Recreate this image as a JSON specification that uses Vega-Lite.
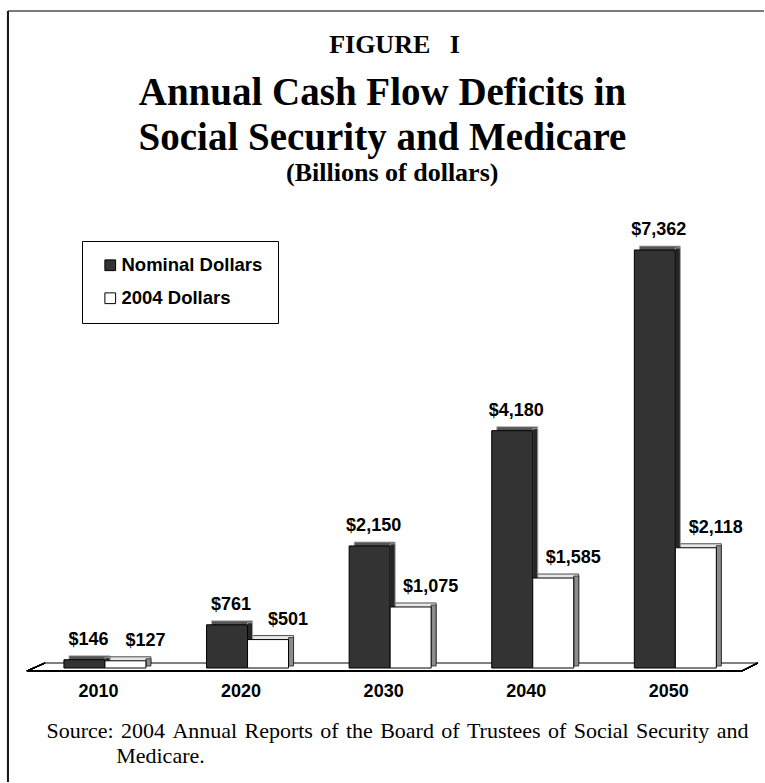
{
  "$schema": "https://vega.github.io/schema/vega-lite/v6.json",
  "width": 757,
  "height": 772,
  "autosize": "none",
  "padding": {"left": 8, "top": 11, "right": -1, "bottom": -1},
  "background": "white",
  "config": {
    "view": {"stroke": null},
    "font": "Liberation Sans",
    "axisRight": {"domain": false, "ticks": false, "labels": false, "grid": false, "title": null},
    "axisTop": {"domain": false, "ticks": false, "labels": false, "grid": false, "title": null},
    "axisX": {
      "offset": -112,
      "domain": false,
      "ticks": false,
      "grid": false,
      "bandPosition": 0.5,
      "labelAngle": 0,
      "labelPadding": 11,
      "labelOffset": -6.5,
      "labelBaseline": "top",
      "labelFont": "Liberation Sans",
      "labelFontSize": 18,
      "labelFontWeight": "bold",
      "labelColor": "black",
      "titleX": 38,
      "titleY": 66,
      "titleAlign": "left",
      "titleAnchor": null,
      "titleBaseline": "alphabetic",
      "titleFont": "Liberation Serif",
      "titleFontSize": 22,
      "titleFontWeight": "normal",
      "titleLineHeight": 25,
      "titleColor": "black"
    },
    "axisY": {
      "domain": false,
      "ticks": false,
      "labels": false,
      "grid": false,
      "titleAngle": 0,
      "titleX": 386,
      "titleY": 41,
      "titleAlign": "center",
      "titleAnchor": null,
      "titleBaseline": "alphabetic",
      "titleFont": "Liberation Serif",
      "titleFontSize": 26,
      "titleFontWeight": "bold",
      "titleColor": "black"
    }
  },
  "title": {
    "text": ["Annual Cash Flow Deficits in", "Social Security and Medicare"],
    "subtitle": "\u200b\u00a0\u00a0\u00a0(Billions of dollars)",
    "font": "Liberation Serif",
    "fontSize": 39,
    "fontWeight": "bold",
    "color": "black",
    "lineHeight": 45,
    "subtitleFont": "Liberation Serif",
    "subtitleFontSize": 26,
    "subtitleFontWeight": "bold",
    "subtitleColor": "black",
    "subtitlePadding": 2,
    "anchor": "middle",
    "frame": "group",
    "orient": "top",
    "offset": -176,
    "dx": -4
  },
  "data": {
    "values": [
      {"year": "2010", "series": "Nominal Dollars", "value": 146},
      {"year": "2010", "series": "2004 Dollars", "value": 127},
      {"year": "2020", "series": "Nominal Dollars", "value": 761},
      {"year": "2020", "series": "2004 Dollars", "value": 501},
      {"year": "2030", "series": "Nominal Dollars", "value": 2150},
      {"year": "2030", "series": "2004 Dollars", "value": 1075},
      {"year": "2040", "series": "Nominal Dollars", "value": 4180},
      {"year": "2040", "series": "2004 Dollars", "value": 1585},
      {"year": "2050", "series": "Nominal Dollars", "value": 7362},
      {"year": "2050", "series": "2004 Dollars", "value": 2118}
    ]
  },
  "resolve": {"scale": {"fill": "independent", "xOffset": "independent"}},
  "layer": [
    {
      "mark": {"type": "rule", "color": "black", "strokeWidth": 1.2, "xOffset": -78, "x2Offset": 66.5, "yOffset": 3},
      "encoding": {
        "x": {"datum": "2010", "bandPosition": 0.5, "scale": {"domain": ["2010", "2020", "2030", "2040", "2050"], "range": [19, 734], "paddingInner": 0.425, "paddingOuter": 0.2195, "align": 0.59}},
        "x2": {"datum": "2050", "bandPosition": 0.5},
        "y": {"datum": 0, "scale": {"domain": [-2025, 11571], "nice": false, "zero": false}}
      }
    },
    {
      "mark": {"type": "rule", "color": "#808080", "strokeWidth": 1.2, "xOffset": -60, "x2Offset": 82.5, "yOffset": -5},
      "encoding": {
        "x": {"datum": "2010", "bandPosition": 0.5},
        "x2": {"datum": "2050", "bandPosition": 0.5},
        "y": {"datum": 0}
      }
    },
    {
      "mark": {"type": "rule", "color": "black", "strokeWidth": 1.2, "xOffset": -78, "x2Offset": -60, "yOffset": 3, "y2Offset": -5},
      "encoding": {
        "x": {"datum": "2010", "bandPosition": 0.5},
        "x2": {"datum": "2010", "bandPosition": 0.5},
        "y": {"datum": 0},
        "y2": {"datum": 0}
      }
    },
    {
      "mark": {"type": "rule", "color": "black", "strokeWidth": 1.2, "xOffset": 66.5, "x2Offset": 82.5, "yOffset": 3, "y2Offset": -5},
      "encoding": {
        "x": {"datum": "2050", "bandPosition": 0.5},
        "x2": {"datum": "2050", "bandPosition": 0.5},
        "y": {"datum": 0},
        "y2": {"datum": 0}
      }
    },
    {
      "mark": {"type": "rule", "color": "#7a7a7a", "strokeWidth": 2},
      "encoding": {
        "y": {"datum": 11571}
      }
    },
    {
      "mark": {"type": "rule", "color": "#1a1a1a", "strokeWidth": 2, "xOffset": -96.94},
      "encoding": {
        "x": {"datum": "2010", "bandPosition": 0.5}
      }
    },
    {
      "mark": {"type": "bar", "yOffset": -4, "y2Offset": -4, "strokeWidth": 0.8},
      "encoding": {
        "x": {"field": "year", "type": "nominal"},
        "xOffset": {"field": "series", "type": "nominal", "scale": {"domain": ["Nominal Dollars", "2004 Dollars"], "range": [5, 87], "paddingInner": 0, "paddingOuter": 0}},
        "y": {"field": "value", "type": "quantitative"},
        "y2": {"datum": 0},
        "fill": {"field": "series", "type": "nominal", "scale": {"domain": ["Nominal Dollars", "2004 Dollars"], "range": ["#555555", "#e8e8e8"]}, "legend": null},
        "stroke": {"field": "series", "type": "nominal", "scale": {"domain": ["Nominal Dollars", "2004 Dollars"], "range": ["#b5b5b5", "#222222"]}, "legend": null}
      }
    },
    {
      "mark": {"type": "bar", "width": 5, "yOffset": -2, "y2Offset": -2, "strokeWidth": 0.8},
      "encoding": {
        "x": {"field": "year", "type": "nominal"},
        "xOffset": {"field": "series", "type": "nominal", "scale": {"domain": ["Nominal Dollars", "2004 Dollars"], "range": [23, 105], "paddingInner": 0, "paddingOuter": 0}},
        "y": {"field": "value", "type": "quantitative"},
        "y2": {"datum": 0},
        "fill": {"field": "series", "type": "nominal", "scale": {"domain": ["Nominal Dollars", "2004 Dollars"], "range": ["#262626", "#8c8c8c"]}, "legend": null},
        "stroke": {"field": "series", "type": "nominal", "legend": null}
      }
    },
    {
      "mark": {"type": "bar", "stroke": "black", "strokeWidth": 1},
      "encoding": {
        "x": {
          "field": "year",
          "type": "nominal",
          "axis": {
            "title": ["Source: \u200a2004 \u200aAnnual \u200aReports \u200aof \u200athe \u200aBoard \u200aof \u200aTrustees \u200aof \u200aSocial \u200aSecurity \u200aand", "\u200b\u00a0\u00a0\u00a0\u00a0\u00a0\u00a0\u00a0\u00a0\u00a0\u00a0\u00a0\u00a0\u200a\u200aMedicare."]
          }
        },
        "xOffset": {"field": "series", "type": "nominal", "scale": {"domain": ["Nominal Dollars", "2004 Dollars"], "paddingInner": 0, "paddingOuter": 0}},
        "y": {
          "field": "value",
          "type": "quantitative",
          "axis": {"title": "FIGURE\u00a0\u00a0\u00a0I"}
        },
        "y2": {"datum": 0},
        "fill": {
          "field": "series",
          "type": "nominal",
          "scale": {"domain": ["Nominal Dollars", "2004 Dollars"], "range": ["#333333", "#ffffff"]},
          "legend": {
            "orient": "none",
            "legendX": 74,
            "legendY": 230,
            "title": null,
            "direction": "vertical",
            "strokeColor": "black",
            "fillColor": "white",
            "padding": 15,
            "symbolType": "square",
            "symbolSize": 115,
            "symbolStrokeColor": "black",
            "symbolStrokeWidth": 1,
            "symbolOffset": 4,
            "labelOffset": 2,
            "labelFont": "Liberation Sans",
            "labelFontSize": 18.5,
            "labelFontWeight": "bold",
            "labelColor": "black",
            "rowPadding": 14
          }
        }
      }
    },
    {
      "transform": [{"filter": "datum.series === 'Nominal Dollars'"}],
      "mark": {"type": "text", "dx": 4, "dy": -15, "baseline": "alphabetic", "align": "center", "font": "Liberation Sans", "fontSize": 18, "fontWeight": "bold", "color": "black"},
      "encoding": {
        "x": {"field": "year", "type": "nominal"},
        "xOffset": {"field": "series", "type": "nominal", "scale": {"type": "point", "domain": ["Nominal Dollars", "2004 Dollars"], "range": [20.5, 61.5], "padding": 0}},
        "y": {"field": "value", "type": "quantitative"},
        "text": {"field": "value", "type": "quantitative", "format": "$,d"}
      }
    },
    {
      "transform": [{"filter": "datum.series === '2004 Dollars'"}],
      "mark": {"type": "text", "dx": 20, "dy": -15, "baseline": "alphabetic", "align": "center", "font": "Liberation Sans", "fontSize": 18, "fontWeight": "bold", "color": "black"},
      "encoding": {
        "x": {"field": "year", "type": "nominal"},
        "xOffset": {"field": "series", "type": "nominal", "scale": {"type": "point", "domain": ["Nominal Dollars", "2004 Dollars"], "range": [20.5, 61.5], "padding": 0}},
        "y": {"field": "value", "type": "quantitative"},
        "text": {"field": "value", "type": "quantitative", "format": "$,d"}
      }
    }
  ]
}
